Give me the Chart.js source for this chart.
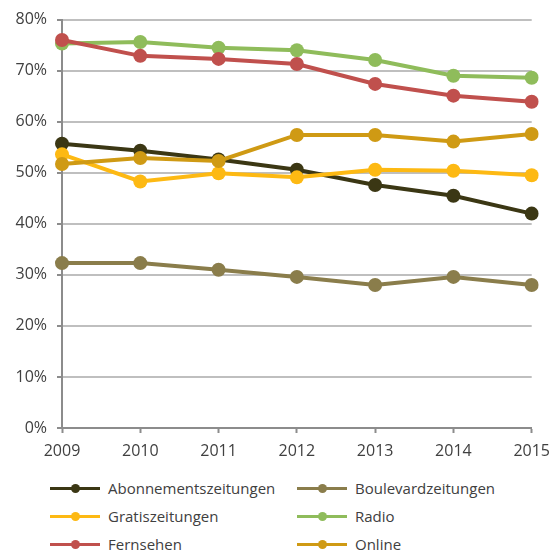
<!DOCTYPE html>
<html>
<head>
<meta charset="utf-8">
<script src="https://cdn.jsdelivr.net/npm/chart.js@4/dist/chart.umd.min.js"></script>
<style>
  body { margin: 0; background: #fff; font-family: "Open Sans", sans-serif; }
  #wrap { position: relative; width: 559px; height: 551px; }
  #legend { position: absolute; left: 0; top: 478px; width: 559px; }
  .item { position: absolute; height: 20px; font-size: 15px; color: #404040; line-height: 20px; }
  .item .sw { position: absolute; left: 0; top: 9px; width: 50px; height: 3px; }
  .item .dot { position: absolute; left: 21px; top: 6px; width: 9px; height: 9px; border-radius: 50%; }
  .item .tx { position: absolute; left: 58px; top: 0; white-space: nowrap; }
</style>
</head>
<body>
<div id="wrap">
  <canvas id="myChart" width="559" height="460"></canvas>
  <div id="legend"></div>
</div>
<script>
  // data
  const years = ["2009", "2010", "2011", "2012", "2013", "2014", "2015"];
  const seriesNames = ["Abonnementszeitungen", "Boulevardzeitungen", "Gratiszeitungen", "Radio", "Fernsehen", "Online"];
  const abonnement = [55.7, 54.3, 52.6, 50.6, 47.6, 45.5, 42.0];
  const boulevard = [32.3, 32.3, 31.0, 29.6, 28.0, 29.6, 28.0];
  const gratis = [53.6, 48.3, 49.9, 49.1, 50.6, 50.4, 49.5];
  const radio = [75.3, 75.6, 74.5, 74.0, 72.1, 69.0, 68.6];
  const fernsehen = [76.0, 72.9, 72.3, 71.3, 67.4, 65.1, 63.9];
  const online = [51.7, 52.9, 52.3, 57.4, 57.4, 56.1, 57.6];
  const yTicks = [0, 10, 20, 30, 40, 50, 60, 70, 80];

  const colors = ["#3b3714", "#8a7d4b", "#fdb913", "#8fbc5b", "#c0504d", "#cf9a14"];
  const values = [abonnement, boulevard, gratis, radio, fernsehen, online];

  const datasets = seriesNames.map((name, i) => ({
    label: name,
    data: values[i],
    borderColor: colors[i],
    backgroundColor: colors[i],
    borderWidth: 4,
    pointRadius: 7,
    pointHoverRadius: 7,
    pointBorderWidth: 0,
    tension: 0,
    order: seriesNames.length - i // later series on top, like the original
  }));

  const tickFont = { family: "'Open Sans', sans-serif", size: 16 };

  new Chart(document.getElementById("myChart").getContext("2d"), {
    type: "line",
    data: { labels: years, datasets: datasets },
    options: {
      responsive: false,
      animation: false,
      layout: { padding: { top: 9, right: 9, left: 0, bottom: 0 } },
      plugins: { legend: { display: false }, tooltip: { enabled: false } },
      scales: {
        x: {
          offset: false,
          grid: { drawOnChartArea: false, drawTicks: true, tickLength: 5, tickColor: "#8c8c8c", tickWidth: 2 },
          border: { color: "#8c8c8c", width: 2 },
          ticks: { font: tickFont, color: "#404040", padding: 9, maxRotation: 0 },
          afterFit: (s) => { s.height = 32; }
        },
        y: {
          min: 0,
          max: 80,
          afterBuildTicks: (s) => { s.ticks = yTicks.map(v => ({ value: v })); },
          grid: { color: "#bfbfbf", lineWidth: 2, drawTicks: true, tickLength: 5, tickColor: "#8c8c8c", tickWidth: 2 },
          border: { color: "#8c8c8c", width: 2 },
          ticks: { font: tickFont, color: "#404040", padding: 10, callback: (v) => v + "%" },
          afterFit: (s) => { s.width = 62; }
        }
      }
    }
  });

  // two-column legend below the chart
  const legend = document.getElementById("legend");
  const colX = [50, 297];
  const rowY = [0, 28, 56];
  seriesNames.forEach((name, i) => {
    const el = document.createElement("div");
    el.className = "item";
    el.style.left = colX[i % 2] + "px";
    el.style.top = rowY[Math.floor(i / 2)] + "px";
    el.innerHTML = '<span class="sw" style="background:' + colors[i] + '"></span>' +
      '<span class="dot" style="background:' + colors[i] + '"></span>' +
      '<span class="tx">' + name + '</span>';
    legend.appendChild(el);
  });
</script>
</body>
</html>
